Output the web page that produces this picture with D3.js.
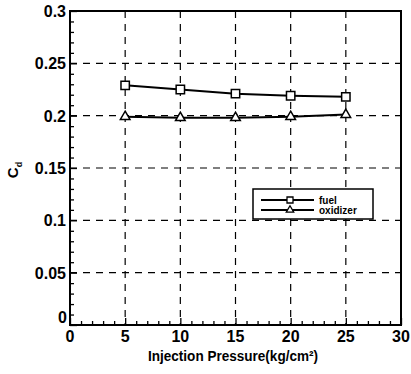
<!DOCTYPE html>
<html>
<head>
<meta charset="utf-8">
<script src="https://cdn.jsdelivr.net/npm/d3@7"></script>
<style>
  body { margin: 0; background: #fff; }
  svg { display: block; font-family: "Liberation Sans", Arial, sans-serif; }
</style>
</head>
<body>
<div id="chart"></div>
<script>
// data
const pressure = [5, 10, 15, 20, 25];
const fuel = [0.229, 0.225, 0.221, 0.219, 0.218];
const oxidizer = [0.199, 0.198, 0.198, 0.199, 0.201];
const xTicks = [0, 5, 10, 15, 20, 25, 30];
const yTicks = [0, 0.05, 0.1, 0.15, 0.2, 0.25, 0.3];
const seriesNames = ['fuel', 'oxidizer'];

const width = 411, height = 374;
const margin = {top: 11, right: 10, bottom: 49, left: 70};

const svg = d3.select('#chart').append('svg')
    .attr('width', width)
    .attr('height', height);

const x = d3.scaleLinear().domain([0, 30]).range([margin.left, width - margin.right]);
const y = d3.scaleLinear().domain([0, 0.3]).range([height - margin.bottom, margin.top]);

// dashed grid
const grid = svg.append('g')
    .attr('stroke', '#000')
    .attr('stroke-width', 1.2)
    .attr('stroke-dasharray', '7,6');
grid.selectAll('.gx').data(xTicks.slice(1, -1)).join('line')
    .attr('x1', (d) => x(d)).attr('x2', (d) => x(d))
    .attr('y1', y(0.3)).attr('y2', y(0));
grid.selectAll('.gy').data(yTicks.slice(1, -1)).join('line')
    .attr('x1', x(0)).attr('x2', x(30))
    .attr('y1', (d) => y(d)).attr('y2', (d) => y(d));

// axes with inward ticks
const xAxis = svg.append('g')
    .attr('transform', `translate(0,${y(0)})`)
    .call(d3.axisBottom(x).tickValues(d3.range(0, 31, 1)).tickSize(-4).tickFormat(''));
xAxis.select('.domain').remove();
xAxis.selectAll('.tick line').filter((d) => d % 5 === 0).attr('y2', -7);
xAxis.selectAll('line').attr('stroke-width', 1.3);

const yAxis = svg.append('g')
    .attr('transform', `translate(${x(0)},0)`)
    .call(d3.axisLeft(y).tickValues(d3.range(0, 0.301, 0.01)).tickSize(-4).tickFormat(''));
yAxis.select('.domain').remove();
yAxis.selectAll('.tick line').filter((d, i) => i % 5 === 0).attr('x2', 7);
yAxis.selectAll('line').attr('stroke-width', 1.3);

// tick labels
svg.append('g').selectAll('text').data(xTicks).join('text')
    .attr('x', (d) => x(d))
    .attr('y', y(0) + 17)
    .attr('text-anchor', 'middle')
    .attr('font-size', 16)
    .attr('font-weight', 'bold')
    .text((d) => d);

svg.append('g').selectAll('text').data(yTicks).join('text')
    .attr('x', (d) => d === 0 ? x(0) - 3 : x(0) - 4)
    .attr('y', (d) => d === 0 ? y(d) - 2 : y(d) + 6)
    .attr('text-anchor', 'end')
    .attr('font-size', 16)
    .attr('font-weight', 'bold')
    .text((d) => d);

// frame
svg.append('rect')
    .attr('x', x(0)).attr('y', y(0.3))
    .attr('width', x(30) - x(0)).attr('height', y(0) - y(0.3))
    .attr('fill', 'none')
    .attr('stroke', '#000')
    .attr('stroke-width', 2);

// axis titles
svg.append('text')
    .attr('x', 233).attr('y', 361)
    .attr('text-anchor', 'middle')
    .attr('font-size', 14)
    .attr('font-weight', 'bold')
    .attr('textLength', 170)
    .attr('lengthAdjust', 'spacingAndGlyphs')
    .text('Injection Pressure(kg/cm²)');

svg.append('text')
    .attr('transform', 'translate(18,170) rotate(-90)')
    .attr('text-anchor', 'middle')
    .attr('font-size', 15)
    .attr('font-weight', 'bold')
    .html('C<tspan dy="4" font-size="9">d</tspan>');

// series
const line = d3.line().x((d) => x(d[0])).y((d) => y(d[1]));
const series = [fuel, oxidizer].map((vals) => pressure.map((p, i) => [p, vals[i]]));

const squareSym = d3.symbol().type(d3.symbolSquare).size(70);
const triSym = d3.symbol().type(d3.symbolTriangle).size(40);
const symbols = [squareSym, triSym];

series.forEach((pts, k) => {
  svg.append('path')
      .datum(pts)
      .attr('d', line)
      .attr('fill', 'none')
      .attr('stroke', '#000')
      .attr('stroke-width', 2);
  svg.append('g').selectAll('path').data(pts).join('path')
      .attr('transform', (d) => `translate(${x(d[0])},${y(d[1])})`)
      .attr('d', symbols[k]())
      .attr('fill', '#fff')
      .attr('stroke', '#000')
      .attr('stroke-width', 1.5);
});

// legend
const legend = svg.append('g').attr('transform', 'translate(253,189)');
legend.append('rect')
    .attr('width', 120).attr('height', 30)
    .attr('fill', '#fff')
    .attr('stroke', '#000')
    .attr('stroke-width', 1.5);
seriesNames.forEach((name, k) => {
  const ly = 11 + k * 10;
  legend.append('line')
      .attr('x1', 8).attr('x2', 61)
      .attr('y1', ly).attr('y2', ly)
      .attr('stroke', '#000')
      .attr('stroke-width', 2);
  legend.append('path')
      .attr('transform', `translate(37,${ly})`)
      .attr('d', d3.symbol().type(k === 0 ? d3.symbolSquare : d3.symbolTriangle).size(k === 0 ? 36 : 24)())
      .attr('fill', '#fff')
      .attr('stroke', '#000')
      .attr('stroke-width', 1.3);
  legend.append('text')
      .attr('x', 66).attr('y', ly + 3.5)
      .attr('font-size', 10)
      .attr('font-weight', 'bold')
      .text(name);
});
</script>
</body>
</html>
